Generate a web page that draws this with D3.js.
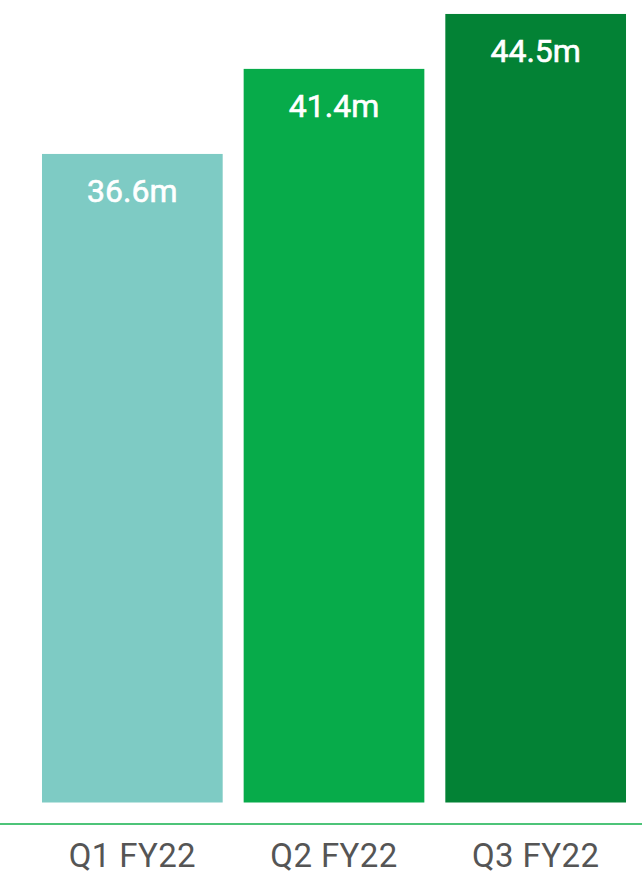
<!DOCTYPE html>
<html>
<head>
<meta charset="utf-8">
<script src="https://cdn.jsdelivr.net/npm/d3@7"></script>
<style>
  body { margin: 0; background: #fff; }
  svg { display: block; font-family: Roboto, "Noto Sans", sans-serif; }
</style>
</head>
<body>
<div id="chart"></div>
<script>
// quarterly values (millions)
const quarters = ["Q1 FY22", "Q2 FY22", "Q3 FY22"];
const values = [36.6, 41.4, 44.5];
const colors = ["#7ecbc4", "#07ab4a", "#038235"];

const width = 642;
const height = 877;
const baseY = 802.5;

const svg = d3.select("#chart")
    .append("svg")
    .attr("width", width)
    .attr("height", height);

let xScale = d3.scaleBand()
    .domain(quarters)
    .range([31.5, 636.5])
    .paddingInner(0.104)
    .paddingOuter(0.052);

let yScale = d3.scaleLinear()
    .domain([0, 45])
    .range([baseY, baseY - 45 * 17.72]);

const data = quarters.map((q, i) => ({ q: q, v: values[i], c: colors[i] }));

svg.selectAll(".bar")
    .data(data)
    .enter()
    .append("rect")
        .attr("class", "bar")
        .attr("x", d => xScale(d.q))
        .attr("y", d => yScale(d.v))
        .attr("width", xScale.bandwidth())
        .attr("height", d => baseY - yScale(d.v))
        .attr("fill", d => d.c);

svg.selectAll(".val")
    .data(data)
    .enter()
    .append("text")
        .attr("class", "val")
        .attr("x", d => xScale(d.q) + xScale.bandwidth() / 2)
        .attr("y", d => yScale(d.v) + 48)
        .attr("text-anchor", "middle")
        .attr("fill", "#fff")
        .attr("font-size", "32px")
        .attr("font-weight", 400)
        .attr("stroke", "#fff")
        .attr("stroke-width", 0.6)
        .text(d => d.v.toFixed(1) + "m");

// baseline
svg.append("line")
    .attr("x1", 0)
    .attr("x2", width)
    .attr("y1", 824)
    .attr("y2", 824)
    .attr("stroke", "#12b04c")
    .attr("stroke-width", 1.5);

// category labels via bottom axis
const xAxis = svg.append("g")
    .attr("transform", "translate(0,823.5)")
    .call(d3.axisBottom(xScale).tickSize(0).tickPadding(0));

xAxis.select(".domain").remove();
xAxis.selectAll("text")
    .attr("dy", 0)
    .attr("y", 43.5)
    .attr("fill", "#555")
    .attr("font-size", "33px")
    .attr("font-family", "Roboto, 'Noto Sans', sans-serif")
    .attr("letter-spacing", "0.4px");
</script>
</body>
</html>
